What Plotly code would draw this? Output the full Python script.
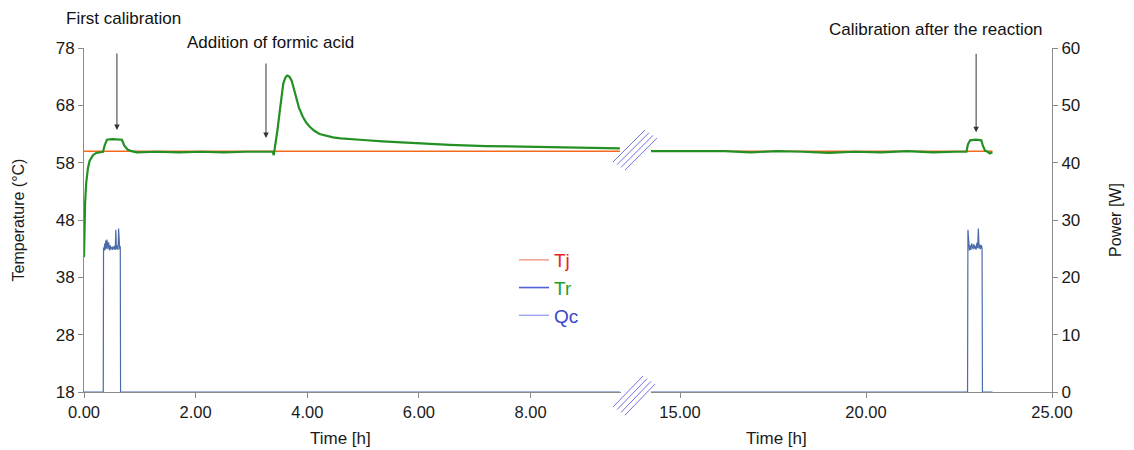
import plotly.graph_objects as go

# ---------------- data ----------------
# left segment (0 - 9.6 h)
tr_left_t = [0.00, 0.01, 0.02, 0.04, 0.07, 0.10, 0.16, 0.22, 0.30, 0.34, 0.37, 0.41, 0.50, 0.60,
             0.68, 0.72, 0.78, 0.85, 0.95, 1.30, 1.70, 2.10, 2.50, 2.90, 3.20, 3.38, 3.40, 3.42,
             3.47, 3.51, 3.57, 3.61, 3.64, 3.68, 3.72, 3.76, 3.80, 3.85, 3.92, 3.98, 4.04, 4.12,
             4.22, 4.32, 4.46, 4.60, 4.76, 5.00, 5.35, 5.60, 5.95, 6.55, 7.20, 7.80, 8.40, 9.00,
             9.60]
tr_left_v = [41.5, 47.0, 51.0, 54.5, 57.0, 58.3, 59.3, 59.7, 59.9, 59.9, 61.0, 62.0, 62.1, 62.1,
             62.0, 61.0, 60.3, 60.0, 59.8, 59.9, 59.8, 59.9, 59.8, 59.9, 59.9, 59.9, 59.3, 60.5,
             64.0, 67.2, 71.8, 72.9, 73.2, 73.0, 72.3, 70.9, 69.2, 67.6, 66.0, 65.0, 64.3, 63.6,
             63.0, 62.7, 62.4, 62.25, 62.1, 61.95, 61.7, 61.55, 61.4, 61.1, 60.9, 60.8, 60.7, 60.6,
             60.5]
tj_left_t = [0.00, 9.60]
tj_left_v = [60.0, 60.0]

qc_left_t = [0.00, 0.345, 0.35, 0.36, 0.37, 0.38, 0.39, 0.40, 0.41, 0.42, 0.43, 0.44, 0.45, 0.46,
             0.47, 0.48, 0.49, 0.50, 0.51, 0.52, 0.53, 0.54, 0.55, 0.56, 0.57, 0.58, 0.59, 0.60,
             0.61, 0.62, 0.63, 0.64, 0.65, 0.655, 9.60]
qc_left_v = [0.0, 0.0, 25.2, 24.6, 25.9, 24.8, 26.4, 25.0, 26.6, 25.3, 24.9, 26.1, 25.1, 24.7,
             25.6, 24.9, 25.3, 25.0, 24.8, 25.4, 25.1, 24.9, 25.5, 24.8, 28.3, 24.9, 25.6, 25.0,
             24.8, 28.5, 25.3, 24.9, 25.4, 0.0, 0.0]

# right segment (14.2 - 23.4 h)
tr_right_t = [14.22, 14.80, 15.50, 16.20, 16.90, 17.60, 18.30, 19.00, 19.70, 20.40, 21.10, 21.80,
              22.40, 22.70, 22.74, 22.80, 22.95, 23.10, 23.14, 23.20, 23.27, 23.33, 23.40]
tr_right_v = [60.0, 60.0, 59.9, 60.0, 59.8, 60.0, 59.9, 59.7, 59.9, 59.8, 60.0, 59.8,
              59.9, 59.9, 61.2, 61.9, 62.0, 61.9, 61.0, 60.1, 59.9, 59.6, 59.8]
tj_right_t = [14.22, 23.40]
tj_right_v = [60.0, 60.0]

qc_right_t = [14.22, 22.73, 22.74, 22.76, 22.78, 22.80, 22.82, 22.84, 22.86, 22.88, 22.90, 22.92,
              22.94, 22.96, 22.98, 23.00, 23.02, 23.04, 23.06, 23.08, 23.10, 23.12, 23.13, 23.40]
qc_right_v = [0.0, 0.0, 28.3, 25.0, 24.7, 25.6, 24.8, 25.9, 25.2, 24.9, 25.8, 25.0,
              25.5, 24.8, 26.0, 25.1, 28.5, 25.0, 25.7, 24.9, 25.6, 25.1, 0.0, 0.0]

left_ticks = [0, 2, 4, 6, 8]
right_ticks = [15, 20, 25]
temp_ticks = [18, 28, 38, 48, 58, 68, 78]
power_ticks = [0, 10, 20, 30, 40, 50, 60]

# ---------------- styles ----------------
TR_COL = "#239023"
TJ_COL = "#f26a1b"
QC_COL = "#4a6ca8"
AX_COL = "#8a8a8a"
FONT = "Liberation Sans, Arial, sans-serif"

OFF = 8  # page body margin
W, H = 1134 - OFF, 450 - OFF
PL, PR, PT, PB = 84, 1052, 48, 392  # plot area in page pixels
ML, MT = PL - OFF, PT - OFF
MR, MB = W - (PR - OFF), H - (PB - OFF)
PW, PH = PR - PL, PB - PT


def px(x):
    return (x - PL) / PW


def py(y):
    return (PB - y) / PH


fig = go.Figure()

for xa, t_qc, v_qc, t_tj, v_tj, t_tr, v_tr in [
    ("x", qc_left_t, qc_left_v, tj_left_t, tj_left_v, tr_left_t, tr_left_v),
    ("x2", qc_right_t, qc_right_v, tj_right_t, tj_right_v, tr_right_t, tr_right_v),
]:
    fig.add_trace(go.Scatter(x=t_qc, y=v_qc, xaxis=xa, yaxis="y2", mode="lines",
                             line=dict(color=QC_COL, width=1.2), showlegend=False))
    fig.add_trace(go.Scatter(x=t_tj, y=v_tj, xaxis=xa, yaxis="y", mode="lines",
                             line=dict(color=TJ_COL, width=1.6), showlegend=False))
    fig.add_trace(go.Scatter(x=t_tr, y=v_tr, xaxis=xa, yaxis="y", mode="lines",
                             line=dict(color=TR_COL, width=2.2), showlegend=False))

# legend entries (as in the original figure)
legend_items = [("Tj", "#f5a591", "#e8232a", 1.6),
                ("Tr", "#5060d8", "#22a02a", 1.6),
                ("Qc", "#8c98ee", "#3848c8", 1.2)]
for name, lc, tc, lw in legend_items:
    fig.add_trace(go.Scatter(x=[None], y=[None], mode="lines", xaxis="x", yaxis="y",
                             name=f"<span style='color:{tc}'>{name}</span>",
                             line=dict(color=lc, width=lw), showlegend=True))

axis_common = dict(showline=True, linecolor=AX_COL, linewidth=1, ticks="outside",
                   tickcolor=AX_COL, ticklen=5, showgrid=False, zeroline=False,
                   automargin=False)
xtickfont = dict(size=16.5, color="#1a1a1a", family=FONT)
ytickfont = dict(size=17, color="#1a1a1a", family=FONT)

fig.update_layout(
    width=W, height=H,
    margin=dict(l=ML, r=MR, t=MT, b=MB, autoexpand=False),
    paper_bgcolor="white", plot_bgcolor="white",
    font=dict(family=FONT, color="#1a1a1a"),
    xaxis=dict(domain=[0, px(621)], range=[0, 9.62], tickvals=left_ticks,
               tickformat=".2f", anchor="y", tickfont=xtickfont, **axis_common),
    xaxis2=dict(domain=[px(651), 1], range=[14.22, 25], tickvals=right_ticks,
                tickformat=".2f", anchor="y", tickfont=xtickfont, **axis_common),
    yaxis=dict(range=[18, 78], tickvals=temp_ticks, anchor="x", side="left",
               tickfont=ytickfont,
               title=dict(text="Temperature (°C)", font=dict(size=16, family=FONT), standoff=27),
               **axis_common),
    yaxis2=dict(range=[0, 60], tickvals=power_ticks, anchor="x2", side="right",
                overlaying="y", tickfont=ytickfont,
                title=dict(text="Power [W]", font=dict(size=16, family=FONT), standoff=30),
                **axis_common),
    legend=dict(x=px(514), y=py(241), xanchor="left", yanchor="top",
                bgcolor="rgba(0,0,0,0)", font=dict(size=19, family=FONT),
                itemwidth=30, tracegroupgap=0),
)

# x-axis titles
for xc, txt in [(340, "Time [h]"), (776, "Time [h]")]:
    fig.add_annotation(x=px(xc), y=py(438), xref="paper", yref="paper", text=txt,
                       xanchor="center", yanchor="middle",
                       showarrow=False, font=dict(size=17, family=FONT, color="#1a1a1a"))

# callout texts
for xc, yc, txt in [(123, 18, "First calibration"),
                    (270, 43, "Addition of formic acid"),
                    (936, 30, "Calibration after the reaction")]:
    fig.add_annotation(x=px(xc), y=py(yc), xref="paper", yref="paper", text=txt,
                       xanchor="center", yanchor="middle",
                       showarrow=False, font=dict(size=17, family=FONT, color="#111111"))

# arrows
for xr, xv, yv, ay in [("x", 0.59, 63.7, -78), ("x", 3.26, 62.3, -76), ("x2", 22.96, 63.3, -80)]:
    fig.add_annotation(x=xv, y=yv, xref=xr, yref="y", text="", showarrow=True,
                       ax=0, ay=ay, arrowhead=2, arrowsize=1.1, arrowwidth=1,
                       arrowcolor="#333333")

# axis break marks
BRK = "#6f70e6"
for (x0, y0, x1, y1) in [(613, 162, 645, 130), (613, 407, 643, 376)]:
    for k in range(4):
        dx, dy = 4 * k, 2.7 * k
        fig.add_shape(type="line", xref="paper", yref="paper",
                      x0=px(x0 + dx), y0=py(y0 + dy), x1=px(x1 + dx), y1=py(y1 + dy),
                      line=dict(color=BRK, width=1))

fig.write_html("out.html")
